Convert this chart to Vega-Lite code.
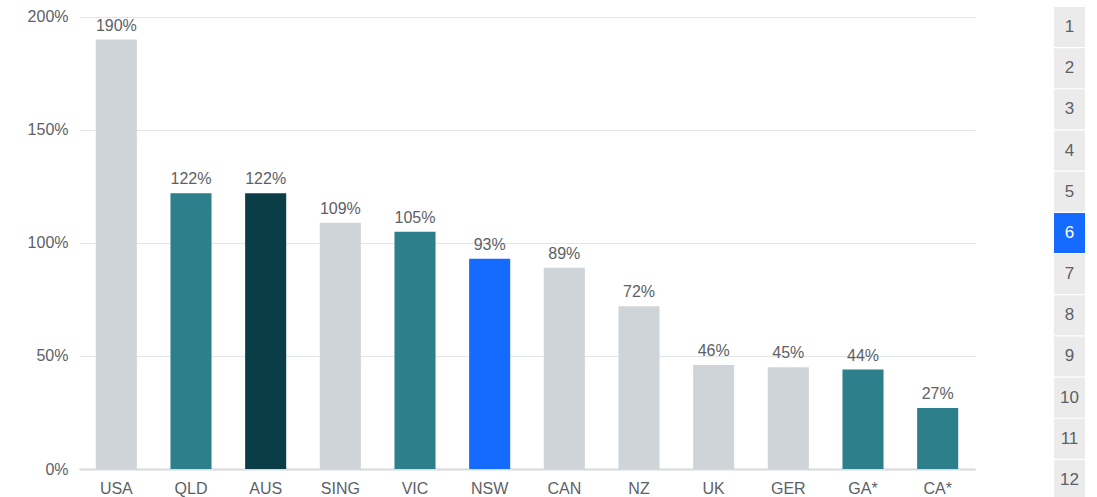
{
  "$schema": "https://vega.github.io/schema/vega-lite/v6.json",
  "padding": {"left": 0, "top": 7, "right": 0, "bottom": 0},
  "background": "white",
  "config": {
    "view": {"stroke": null},
    "font": "Liberation Sans",
    "concat": {"spacing": 79}
  },
  "hconcat": [
    {
      "width": 896,
      "height": 462,
      "data": {
        "values": [
          {"country": "USA", "value": 190, "group": "other"},
          {"country": "QLD", "value": 122, "group": "state"},
          {"country": "AUS", "value": 122, "group": "national"},
          {"country": "SING", "value": 109, "group": "other"},
          {"country": "VIC", "value": 105, "group": "state"},
          {"country": "NSW", "value": 93, "group": "selected"},
          {"country": "CAN", "value": 89, "group": "other"},
          {"country": "NZ", "value": 72, "group": "other"},
          {"country": "UK", "value": 46, "group": "other"},
          {"country": "GER", "value": 45, "group": "other"},
          {"country": "GA*", "value": 44, "group": "state"},
          {"country": "CA*", "value": 27, "group": "state"}
        ]
      },
      "encoding": {
        "x": {
          "field": "country",
          "type": "nominal",
          "sort": null,
          "scale": {"paddingInner": 0.45, "paddingOuter": 0.225},
          "axis": {
            "title": null,
            "labelAngle": 0,
            "ticks": false,
            "labelPadding": 11,
            "labelFontSize": 16,
            "labelColor": "#5c6166",
            "domainColor": "#d6dadd",
            "domainWidth": 2
          }
        },
        "y": {
          "field": "value",
          "type": "quantitative",
          "scale": {"domain": [0, 204.4], "nice": false},
          "axis": {
            "title": null,
            "values": [0, 50, 100, 150, 200],
            "labelExpr": "datum.value + '%'",
            "ticks": false,
            "domain": false,
            "labelPadding": 11,
            "labelFontSize": 16,
            "labelColor": "#5c6166",
            "gridColor": "#e3e6e8",
            "minExtent": 79,
            "maxExtent": 79
          }
        }
      },
      "layer": [
        {
          "mark": {"type": "bar"},
          "encoding": {
            "color": {
              "field": "group",
              "type": "nominal",
              "scale": {
                "domain": ["other", "state", "national", "selected"],
                "range": ["#cfd4d8", "#2d7f8b", "#0a3d46", "#156aff"]
              },
              "legend": null
            }
          }
        },
        {
          "mark": {
            "type": "text",
            "baseline": "bottom",
            "dy": -6,
            "fontSize": 16,
            "color": "#5c6166",
            "text": {"expr": "datum.value + '%'"}
          },
          "encoding": {}
        }
      ]
    },
    {
      "width": 31,
      "height": 493,
      "data": {
        "values": [
          {"rank": 1, "active": "no"},
          {"rank": 2, "active": "no"},
          {"rank": 3, "active": "no"},
          {"rank": 4, "active": "no"},
          {"rank": 5, "active": "no"},
          {"rank": 6, "active": "yes"},
          {"rank": 7, "active": "no"},
          {"rank": 8, "active": "no"},
          {"rank": 9, "active": "no"},
          {"rank": 10, "active": "no"},
          {"rank": 11, "active": "no"},
          {"rank": 12, "active": "no"}
        ]
      },
      "encoding": {
        "y": {
          "field": "rank",
          "type": "ordinal",
          "scale": {"paddingInner": 0.03, "paddingOuter": 0},
          "axis": null
        }
      },
      "layer": [
        {
          "mark": {"type": "bar"},
          "encoding": {
            "color": {
              "field": "active",
              "type": "nominal",
              "scale": {"domain": ["no", "yes"], "range": ["#ebebeb", "#156aff"]},
              "legend": null
            }
          }
        },
        {
          "mark": {"type": "text", "fontSize": 17, "baseline": "middle", "align": "center", "x": 15.5},
          "encoding": {
            "text": {"field": "rank", "type": "ordinal"},
            "color": {
              "field": "active",
              "type": "nominal",
              "scale": {"domain": ["no", "yes"], "range": ["#5c6166", "#ffffff"]},
              "legend": null
            }
          }
        }
      ],
      "resolve": {"scale": {"color": "independent"}}
    }
  ]
}
